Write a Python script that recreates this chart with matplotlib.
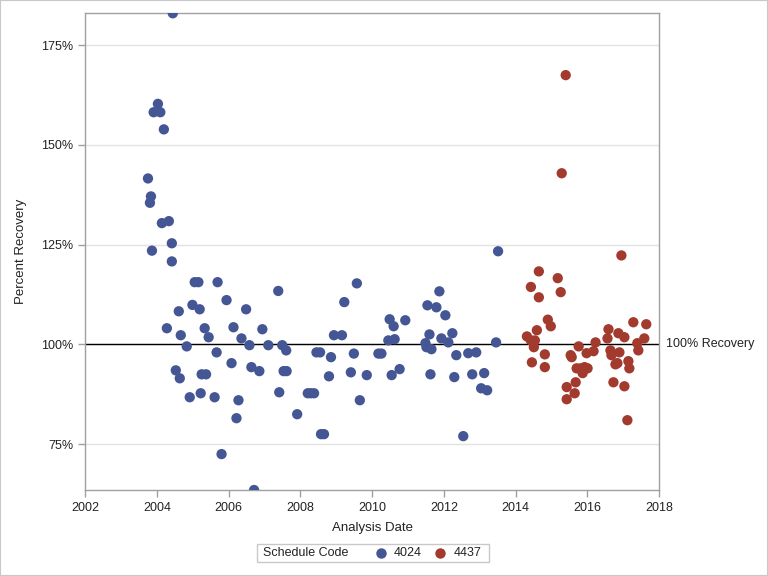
import numpy as np
import matplotlib.pyplot as plt
from matplotlib.lines import Line2D
from matplotlib.patches import Rectangle

plt.rcParams['font.family'] = ['Liberation Sans', 'DejaVu Sans']

# ----------- dados -----------
# Schedule Code 4024 (ano decimal, % de recuperacao)
data_4024 = [2004.44, 2004.025, 2003.906, 2004.092, 2004.191, 2003.748, 2003.831, 2003.803,
             2004.136, 2004.330, 2004.413, 2003.859, 2004.413, 2005.051, 2005.154, 2005.689,
             2007.381, 2005.939, 2004.988, 2005.190, 2004.607, 2006.485, 2004.275, 2004.663,
             2005.329, 2005.440, 2006.133, 2006.355, 2006.938, 2004.829, 2006.577, 2007.104,
             2007.492, 2007.603, 2005.662, 2004.524, 2004.635, 2006.078, 2006.632, 2006.854,
             2007.531, 2007.614, 2005.245, 2005.368, 2004.913, 2005.218, 2005.606, 2006.272,
             2007.409, 2006.216, 2005.800, 2006.707, 2009.573, 2009.223, 2010.488, 2010.599,
             2010.924, 2008.935, 2009.157, 2010.452, 2010.627, 2008.447, 2008.547, 2008.852,
             2009.490, 2010.175, 2010.258, 2008.796, 2009.406, 2009.850, 2010.544, 2010.766,
             2008.205, 2008.290, 2008.380, 2009.656, 2007.909, 2008.574, 2008.657, 2013.512,
             2011.875, 2011.542, 2011.792, 2012.042, 2011.598, 2012.236, 2011.931, 2012.125,
             2011.487, 2011.515, 2011.653, 2013.456, 2012.347, 2012.680, 2012.902, 2011.626,
             2012.291, 2012.791, 2013.124, 2013.040, 2013.207, 2012.541]
rec_4024 = [183.0, 160.3, 158.2, 158.2, 153.9, 141.6, 137.1, 135.5,
            130.4, 130.9, 125.35, 123.5, 120.8, 115.6, 115.6, 115.6,
            113.4, 111.1, 109.9, 108.8, 108.3, 108.8, 104.05, 102.3,
            104.05, 101.8, 104.3, 101.5, 103.8, 99.5, 99.8, 99.8,
            99.8, 98.5, 98.0, 93.5, 91.5, 95.3, 94.3, 93.3,
            93.3, 93.3, 92.5, 92.5, 86.75, 87.75, 86.75, 86.0,
            88.0, 81.5, 72.5, 63.5, 115.3, 110.6, 106.3, 104.55,
            106.05, 102.3, 102.3, 101.0, 101.3, 98.0, 98.0, 96.8,
            97.7, 97.7, 97.7, 92.0, 93.0, 92.3, 92.3, 93.8,
            87.75, 87.75, 87.75, 86.0, 82.5, 77.5, 77.5, 123.35,
            113.3, 109.8, 109.3, 107.3, 102.5, 102.8, 101.5, 100.5,
            100.3, 99.3, 98.8, 100.5, 97.3, 97.8, 98.0, 92.5,
            91.8, 92.5, 92.8, 89.0, 88.5, 77.0]

# Schedule Code 4437
data_4437 = [2015.398, 2015.287, 2016.951, 2014.649, 2015.176, 2014.427, 2015.259, 2014.649,
             2014.899, 2014.982, 2014.594, 2014.316, 2014.427, 2014.538, 2014.510, 2017.284,
             2017.645, 2016.591, 2016.868, 2017.035, 2016.563, 2016.230, 2017.590, 2017.395,
             2017.423, 2015.759, 2015.981, 2016.175, 2016.646, 2016.674, 2016.896, 2015.537,
             2015.565, 2014.816, 2014.455, 2014.816, 2017.146, 2017.173, 2016.785, 2016.840,
             2015.703, 2015.814, 2015.925, 2016.008, 2015.870, 2015.676, 2015.426, 2015.648,
             2015.426, 2016.729, 2017.035, 2017.118]
rec_4437 = [167.5, 142.9, 122.3, 118.3, 116.6, 114.4, 113.1, 111.8,
            106.2, 104.55, 103.55, 102.0, 101.0, 101.0, 99.3, 105.55,
            105.05, 103.8, 102.8, 101.8, 101.5, 100.5, 101.5, 100.3,
            98.5, 99.5, 97.8, 98.3, 98.5, 97.3, 98.0, 97.3,
            96.8, 97.5, 95.5, 94.3, 95.8, 94.0, 95.0, 95.3,
            94.0, 94.0, 94.3, 94.0, 92.8, 90.5, 89.3, 87.75,
            86.25, 90.5, 89.5, 81.0]

anos = [2002, 2004, 2006, 2008, 2010, 2012, 2014, 2016, 2018]
percentuais = [75, 100, 125, 150, 175]

cor_4024 = '#445694'
cor_4437 = '#A23A2E'


def main():
    fig = plt.figure(figsize=(7.68, 5.76), dpi=100)
    ax = fig.add_axes([85.3 / 768, 1 - 490 / 576, (659 - 85.3) / 768, (490 - 13.3) / 576])

    ax.set_xlim(2002, 2018)
    ax.set_ylim(63.5, 183.0)

    # grade
    for p in percentuais:
        ax.axhline(p, color='#E2E2E2', linewidth=1, zorder=0)
    ax.axhline(100, color='black', linewidth=1, zorder=1)

    ax.scatter(data_4024, rec_4024, s=55, color=cor_4024, edgecolors='none', zorder=3)
    ax.scatter(data_4437, rec_4437, s=55, color=cor_4437, edgecolors='none', zorder=3)

    ax.text(1.012, 100, '100% Recovery', transform=ax.get_yaxis_transform(),
            va='center', ha='left', fontsize=9, color='#222222')

    ax.set_xticks(anos)
    ax.set_xticklabels([str(a) for a in anos])
    ax.set_yticks(percentuais)
    ax.set_yticklabels([f'{p}%' for p in percentuais])
    ax.tick_params(colors='#A0A0A0', labelcolor='#222222', labelsize=9, length=5, width=1)

    for s in ax.spines.values():
        s.set_color('#A0A0A0')
        s.set_linewidth(1)

    ax.set_xlabel('Analysis Date', fontsize=9.5, color='#222222', labelpad=6)
    ax.set_ylabel('Percent Recovery', fontsize=9.5, color='#222222', labelpad=10)

    # legenda
    fig.add_artist(Rectangle((257.3 / 768, 1 - 562.3 / 576), 231.4 / 768, 18.3 / 576,
                             transform=fig.transFigure, facecolor='white',
                             edgecolor='#C8C8C8', linewidth=1))
    yl = 1 - 553 / 576
    fig.text(263.3 / 768, yl, 'Schedule Code', fontsize=9, va='center', ha='left', color='#222222')
    fig.add_artist(Line2D([380.7 / 768], [yl], marker='o', markersize=7.5, color=cor_4024,
                          markeredgewidth=0, linestyle='none', transform=fig.transFigure))
    fig.text(394 / 768, yl, '4024', fontsize=9, va='center', ha='left', color='#222222')
    fig.add_artist(Line2D([440 / 768], [yl], marker='o', markersize=7.5, color=cor_4437,
                          markeredgewidth=0, linestyle='none', transform=fig.transFigure))
    fig.text(454 / 768, yl, '4437', fontsize=9, va='center', ha='left', color='#222222')

    # borda externa
    fig.add_artist(Rectangle((0, 0), 1, 1, transform=fig.transFigure, fill=False,
                             edgecolor='#C8C8C8', linewidth=1.5))

    fig.savefig('out.png', dpi=100)


if __name__ == "__main__":
    main()
